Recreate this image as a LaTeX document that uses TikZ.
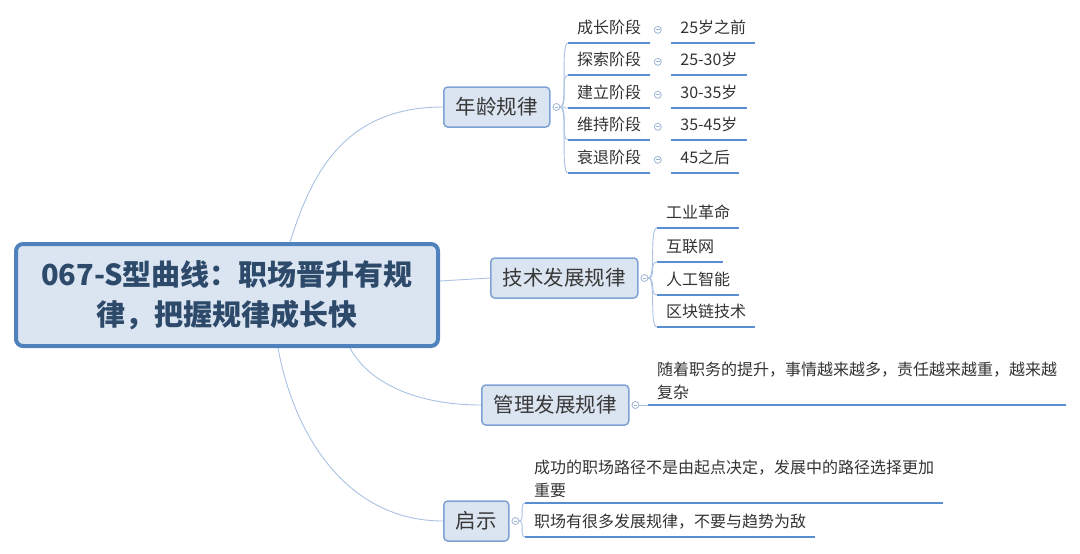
\documentclass[tikz,border=0pt]{standalone}
\usepackage{fontspec}
\setmainfont{Noto Sans CJK SC}
\usepackage{xcolor}
\usepackage{tikz}
\usetikzlibrary{positioning,backgrounds}

\definecolor{rootfill}{HTML}{DBE5F1}
\definecolor{rootline}{HTML}{4F81BD}
\definecolor{roottext}{HTML}{2E4A6B}
\definecolor{topicline}{HTML}{7EA2D3}
\definecolor{branchline}{HTML}{A9C2E4}
\definecolor{leafline}{HTML}{5A8ED2}
\definecolor{foldline}{HTML}{9DB4D4}

\begin{document}
\begin{tikzpicture}[x=1pt, y=-1pt,
    root/.style={rectangle, rounded corners=7pt, draw=rootline, line width=4pt, fill=rootfill, text=roottext, font=\fontsize{29}{40}\selectfont\bfseries, align=center, minimum width=422pt, minimum height=102pt},
    topic/.style={rectangle, rounded corners=4pt, draw=topicline, line width=1.5pt, fill=rootfill, text=black!78, font=\fontsize{20.5}{24}\selectfont, minimum height=40pt, inner xsep=12pt, anchor=west},
    fold/.style={circle, draw=foldline, fill=white, line width=0.8pt, minimum size=7pt, inner sep=0pt, path picture={\draw[foldline, line width=0.8pt] ([xshift=1.8pt]path picture bounding box.west) -- ([xshift=-1.8pt]path picture bounding box.east);}},
    uline/.style={draw=leafline, line width=2.5pt},
    leaf/.style={rectangle, text=black!80, font=\fontsize{16}{23}\selectfont, inner xsep=9pt, inner ysep=5pt, text height=12pt, text depth=4pt, anchor=south west, append after command={(\tikzlastnode.south west) edge[uline] (\tikzlastnode.south east)}},
    note/.style={rectangle, text=black!80, font=\fontsize{16}{23}\selectfont, inner xsep=9pt, inner ysep=5pt, align=left, anchor=south west, append after command={(\tikzlastnode.south west) edge[uline] (\tikzlastnode.south east)}},
    branch/.style={draw=branchline, line width=0.9pt}
]
\useasboundingbox (0,0) rectangle (1080,554);

% Central topic
\node[root] (root) at (227,295) {067-S型曲线：职场晋升有规\\律，把握规律成长快};

% Main topics
\node[topic] (age) at (443,107) {年龄规律};
\node[topic] (tech) at (490,278) {技术发展规律};
\node[topic] (mgmt) at (481,405) {管理发展规律};
\node[topic] (hint) at (443,521) {启示};

\node[fold, right=2pt of age] (agefold) {};
\node[fold, right=2pt of tech] (techfold) {};
\node[fold, right=2pt of mgmt] (mgmtfold) {};
\node[fold, right=2pt of hint] (hintfold) {};

% Age stages
\node[leaf] (stage1) at (568,43) {成长阶段};
\node[leaf] (stage2) at (568,75) {探索阶段};
\node[leaf] (stage3) at (568,108) {建立阶段};
\node[leaf] (stage4) at (568,140) {维持阶段};
\node[leaf] (stage5) at (568,173) {衰退阶段};

\node[fold, right=3.5pt of stage1] (stage1fold) {};
\node[fold, right=3.5pt of stage2] (stage2fold) {};
\node[fold, right=3.5pt of stage3] (stage3fold) {};
\node[fold, right=3.5pt of stage4] (stage4fold) {};
\node[fold, right=3.5pt of stage5] (stage5fold) {};

\node[leaf, right=9.5pt of stage1fold] (range1) {25岁之前};
\node[leaf, right=9.5pt of stage2fold] (range2) {25-30岁};
\node[leaf, right=9.5pt of stage3fold] (range3) {30-35岁};
\node[leaf, right=9.5pt of stage4fold] (range4) {35-45岁};
\node[leaf, right=9.5pt of stage5fold] (range5) {45之后};

% Technology
\node[leaf] (tech1) at (657,228) {工业革命};
\node[leaf] (tech2) at (657,262) {互联网};
\node[leaf] (tech3) at (657,295) {人工智能};
\node[leaf] (tech4) at (657,327) {区块链技术};

% Management and hints
\node[note] (mgmtnote) at (648,405) {随着职务的提升，事情越来越多，责任越来越重，越来越\\复杂};
\node[note] (hint1) at (525,503) {成功的职场路径不是由起点决定，发展中的路径选择更加\\重要};
\node[leaf] (hint2) at (525,537) {职场有很多发展规律，不要与趋势为敌};

% Branches
\begin{scope}[on background layer]
\draw[branch] ([xshift=63pt]root.north) .. controls (310,180) and (340,107) .. (age.west);
\draw[branch] ([yshift=14pt]root.east) .. controls (465,279) .. (tech.west);
\draw[branch] ([xshift=123pt]root.south) .. controls (370,385) and (420,405) .. (mgmt.west);
\draw[branch] ([xshift=51pt]root.south) .. controls (295,440) and (350,521) .. (hint.west);
\end{scope}

\draw[branch] (agefold.east) .. controls +(8,0) and +(-8,0) .. (stage1.south west);
\draw[branch] (agefold.east) .. controls +(8,0) and +(-8,0) .. (stage2.south west);
\draw[branch] (agefold.east) .. controls +(8,0) and +(-8,0) .. (stage3.south west);
\draw[branch] (agefold.east) .. controls +(8,0) and +(-8,0) .. (stage4.south west);
\draw[branch] (agefold.east) .. controls +(8,0) and +(-8,0) .. (stage5.south west);

\draw[branch] (techfold.east) .. controls +(8,0) and +(-8,0) .. (tech1.south west);
\draw[branch] (techfold.east) .. controls +(8,0) and +(-8,0) .. (tech2.south west);
\draw[branch] (techfold.east) .. controls +(8,0) and +(-8,0) .. (tech3.south west);
\draw[branch] (techfold.east) .. controls +(8,0) and +(-8,0) .. (tech4.south west);

\draw[branch] (mgmtfold.east) -- (mgmtnote.south west);
\draw[branch] (hintfold.east) .. controls +(6,0) and +(-6,0) .. (hint1.south west);
\draw[branch] (hintfold.east) .. controls +(6,0) and +(-6,0) .. (hint2.south west);

\end{tikzpicture}
\end{document}
